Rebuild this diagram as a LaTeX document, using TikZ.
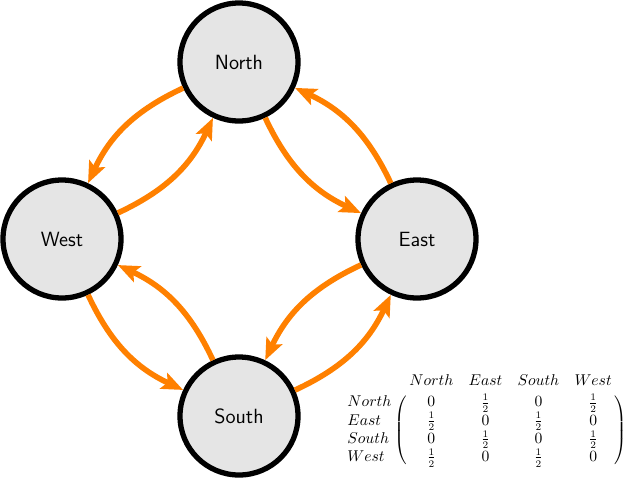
\documentclass[tikz,border=0pt]{standalone}
\usetikzlibrary{arrows.meta}
\begin{document}
\begin{tikzpicture}[x=0.7pt,y=-0.7pt,
  state/.style={circle,draw=black,line width=3.7pt,fill=gray!20,minimum size=82.6pt,inner sep=0pt,font=\sffamily\Large},
  arr/.style={draw=orange,line width=3.9pt,-{Stealth[length=15pt,width=12pt,inset=3pt]},shorten >=0pt}]
\useasboundingbox (0,0) rectangle (637,490);
\node[state] (N) at (239,62) {North};
\node[state] (W) at (62,239) {West};
\node[state] (E) at (417,239) {East};
\node[state] (S) at (239,416) {South};
\draw[arr] (N) to[bend right=20] (W);
\draw[arr] (W) to[bend right=20] (N);
\draw[arr] (N) to[bend right=20] (E);
\draw[arr] (E) to[bend right=20] (N);
\draw[arr] (E) to[bend right=20] (S);
\draw[arr] (S) to[bend right=20] (E);
\draw[arr] (W) to[bend right=20] (S);
\draw[arr] (S) to[bend right=20] (W);
\node[inner sep=0pt,font=\fontsize{10.7}{12.8}\selectfont] (M) at (485,420) {$\bordermatrix{ & North & East & South & West\cr
North & 0 & \frac12 & 0 & \frac12\cr
East & \frac12 & 0 & \frac12 & 0\cr
South & 0 & \frac12 & 0 & \frac12\cr
West & \frac12 & 0 & \frac12 & 0\cr}$};
\end{tikzpicture}
\end{document}
